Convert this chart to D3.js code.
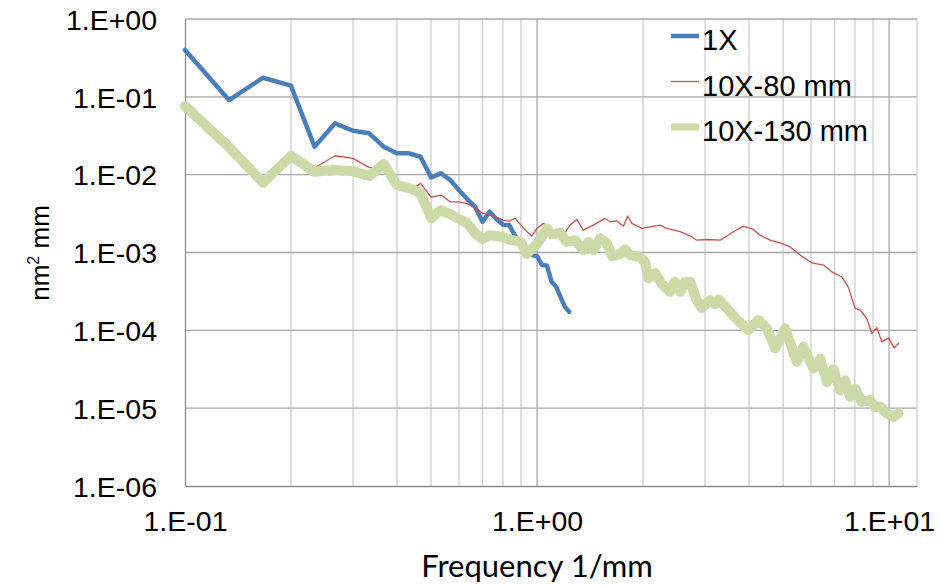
<!DOCTYPE html>
<html>
<head>
<meta charset="utf-8">
<script src="https://cdn.jsdelivr.net/npm/d3@7"></script>
<style>
    body { margin: 0; background: #fff; }
    svg { display: block; }
</style>
</head>
<body>
<div id="chart"></div>
<script>
// series names
var seriesNames = ["1X", "10X-80 mm", "10X-130 mm"];

// 1X
var freq1X = [0.1, 0.1333, 0.1667, 0.2, 0.2333, 0.2667, 0.3, 0.3333, 0.3667, 0.4, 0.4333, 0.4667,
    0.5, 0.5333, 0.5667, 0.6, 0.6333, 0.6667, 0.7, 0.7333, 0.7667, 0.8, 0.8333, 0.8667, 0.9,
    0.9333, 0.9667, 1.0, 1.0333, 1.0667, 1.1, 1.1333, 1.1667, 1.2, 1.2333];
var psd1X = [0.400, 0.091, 0.176, 0.139, 0.0229, 0.0456, 0.0367, 0.0340, 0.0229, 0.0188, 0.0188, 0.0170,
    0.00923, 0.0104, 0.00853, 0.00634, 0.00486, 0.00387, 0.00248, 0.00334, 0.00269, 0.00228, 0.00225, 0.00163, 0.00132,
    0.00107, 0.000926, 0.000899, 0.000689, 0.000680, 0.000420, 0.000362, 0.000267, 0.000200, 0.000173];

// 10X-80 mm
var freq80 = [0.1, 0.1333, 0.1667, 0.2, 0.2333, 0.2667, 0.3, 0.3333, 0.3667, 0.4, 0.4333, 0.4667,
    0.5, 0.5333, 0.5667, 0.6, 0.6333, 0.6667, 0.7, 0.7333, 0.7667, 0.8, 0.8333, 0.8667, 0.9,
    0.9333, 0.9667, 1.0, 1.042, 1.113, 1.162, 1.188, 1.241, 1.297, 1.353, 1.445, 1.560, 1.612,
    1.684, 1.759, 1.810, 1.858, 1.984, 2.049, 2.236, 2.336, 2.549, 2.751, 2.843, 3.034, 3.311,
    3.459, 3.612, 3.855, 4.117, 4.301, 4.592, 4.901, 5.233, 5.587, 6.031, 6.508, 6.875, 7.338,
    7.661, 8.006, 8.273, 8.643, 8.932, 9.226, 9.535, 9.955, 10.33, 10.63];
var psd80 = [0.0762, 0.0270, 0.00787, 0.0175, 0.0122, 0.0175, 0.0162, 0.0124, 0.0118, 0.00853, 0.00603, 0.00773,
    0.00515, 0.00547, 0.00448, 0.00448, 0.00425, 0.00372, 0.00321, 0.00303, 0.00285, 0.00261, 0.00253, 0.00274, 0.00225,
    0.00188, 0.00163, 0.00204, 0.00237, 0.00190, 0.00204, 0.00167, 0.00225, 0.00266, 0.00194, 0.00225, 0.00274, 0.00248,
    0.00255, 0.00218, 0.00294, 0.00237, 0.00204, 0.00210, 0.00225, 0.00204, 0.00185, 0.00159, 0.00144, 0.00147, 0.00144,
    0.00163, 0.00185, 0.00218, 0.00198, 0.00167, 0.00144, 0.00133, 0.00118, 0.000926, 0.000737, 0.000689, 0.000565, 0.000488,
    0.000356, 0.000191, 0.000182, 0.000142, 0.0000912, 0.000108, 0.0000711, 0.0000801, 0.0000596, 0.0000679];

// 10X-130 mm
var freq130 = [0.1, 0.1333, 0.1667, 0.2, 0.2333, 0.2667, 0.3, 0.3333, 0.3667, 0.4, 0.4333, 0.4667,
    0.5, 0.5333, 0.5667, 0.6, 0.6333, 0.6667, 0.7, 0.7333, 0.7667, 0.8, 0.8333, 0.8667, 0.9,
    0.9333, 0.9667, 1.0, 1.0333, 1.0667, 1.1, 1.162, 1.214, 1.282, 1.353, 1.399, 1.445, 1.510,
    1.578, 1.633, 1.721, 1.778, 1.837, 1.961, 2.027, 2.072, 2.164, 2.262, 2.387, 2.466, 2.549,
    2.633, 2.721, 2.843, 2.937, 3.100, 3.204, 3.274, 3.495, 3.692, 3.984, 4.253, 4.494, 4.746,
    5.065, 5.468, 5.707, 6.095, 6.368, 6.667, 6.948, 7.257, 7.499, 7.748, 8.006, 8.365, 8.831,
    9.125, 9.428, 9.851, 10.28, 10.63];
var psd130 = [0.0762, 0.0226, 0.00787, 0.0175, 0.0109, 0.0115, 0.0111, 0.00959, 0.0137, 0.00735, 0.00673, 0.00580,
    0.00277, 0.00351, 0.00312, 0.00269, 0.00239, 0.00177, 0.00149, 0.00167, 0.00163, 0.00158, 0.00147, 0.00142, 0.00136,
    0.000953, 0.00111, 0.00128, 0.00163, 0.00204, 0.00172, 0.00179, 0.00137, 0.00144, 0.00107, 0.00137, 0.00107, 0.00152,
    0.00131, 0.000899, 0.000953, 0.00110, 0.000926, 0.000873, 0.000753, 0.000465, 0.000543, 0.000393, 0.000313, 0.000420, 0.000313,
    0.000420, 0.000420, 0.000244, 0.000193, 0.000244, 0.000217, 0.000249, 0.000182, 0.000138, 0.000101, 0.000135, 0.000106, 0.0000585,
    0.000106, 0.0000394, 0.0000614, 0.0000324, 0.0000435, 0.0000216, 0.0000317, 0.0000170, 0.0000229, 0.0000140, 0.0000179, 0.0000120, 0.0000127,
    0.0000103, 0.0000105, 0.00000855, 0.00000773, 0.00000855];

var xTicks = [0.1, 1, 10];
var yTicks = [1, 0.1, 0.01, 0.001, 0.0001, 0.00001, 0.000001];
var xTitle = "Frequency 1/mm";

function zip(fs, vs) {
    return fs.map((f, i) => ({ f: f, v: vs[i] }));
}

var series = [
    { name: seriesNames[0], data: zip(freq1X, psd1X), color: "#4a7ebb", width: 4.5 },
    { name: seriesNames[1], data: zip(freq80, psd80), color: "#c9504c", width: 1.3 },
    { name: seriesNames[2], data: zip(freq130, psd130), color: "#cbdaa7", width: 10 }
];

function sciLabel(d) {
    var e = Math.round(Math.log10(d));
    return "1.E" + (e < 0 ? "-" : "+") + String(Math.abs(e)).padStart(2, "0");
}

function drawChart() {
    const width = 940;
    const height = 586;
    var margin = ({ top: 19, right: 23, bottom: 100, left: 185 });

    var x = d3.scaleLog()
        .domain([0.1, 12])
        .range([margin.left, width - margin.right]);

    var y = d3.scaleLog()
        .domain([1e-6, 1])
        .range([height - margin.bottom, margin.top]);

    const svg = d3.select("#chart").append("svg")
        .attr("width", width)
        .attr("height", height)
        .attr("viewBox", [0, 0, width, height]);

    // minor vertical gridlines
    var minor = [];
    [0.1, 1, 10].forEach(b => d3.range(2, 10).forEach(m => { if (b * m < 12) minor.push(b * m); }));

    svg.append("g")
        .attr("stroke", "#cfcfcf")
        .attr("stroke-width", 1.3)
        .selectAll("line")
        .data(minor)
        .join("line")
        .attr("x1", d => x(d)).attr("x2", d => x(d))
        .attr("y1", y(1)).attr("y2", y(1e-6));

    // major vertical gridlines
    svg.append("g")
        .attr("stroke", "#a8a8a8")
        .attr("stroke-width", 1.3)
        .selectAll("line")
        .data([1, 10])
        .join("line")
        .attr("x1", d => x(d)).attr("x2", d => x(d))
        .attr("y1", y(1)).attr("y2", y(1e-6));

    // horizontal gridlines
    svg.append("g")
        .attr("stroke", "#a8a8a8")
        .attr("stroke-width", 1.3)
        .selectAll("line")
        .data(yTicks.slice(0, -1))
        .join("line")
        .attr("x1", x(0.1)).attr("x2", x(12))
        .attr("y1", d => y(d)).attr("y2", d => y(d));

    // right edge
    svg.append("line")
        .attr("stroke", "#cfcfcf")
        .attr("stroke-width", 1.3)
        .attr("x1", x(12)).attr("x2", x(12))
        .attr("y1", y(1)).attr("y2", y(1e-6));

    // axes
    svg.append("g")
        .attr("transform", `translate(0,${y(1e-6)})`)
        .call(d3.axisBottom(x).tickValues(xTicks).tickSize(0).tickFormat(sciLabel))
        .call(g => g.select(".domain").attr("stroke", "#8c8c8c").attr("stroke-width", 1.3))
        .call(g => g.selectAll("text")
            .attr("font-family", "'Liberation Sans', Arial, sans-serif")
            .attr("font-size", 28.5)
            .attr("fill", "#000")
            .attr("dy", 0)
            .attr("y", 45));

    svg.append("g")
        .attr("transform", `translate(${x(0.1)},0)`)
        .call(d3.axisLeft(y).tickValues(yTicks).tickSize(0).tickFormat(sciLabel))
        .call(g => g.select(".domain").attr("stroke", "#8c8c8c").attr("stroke-width", 1.3))
        .call(g => g.selectAll("text")
            .attr("font-family", "'Liberation Sans', Arial, sans-serif")
            .attr("font-size", 28.5)
            .attr("fill", "#000")
            .attr("x", -28)
            .attr("dy", "0.36em"));

    // lines
    var line = d3.line()
        .x(d => x(d.f))
        .y(d => y(d.v));

    svg.append("g")
        .attr("fill", "none")
        .attr("stroke-linejoin", "round")
        .attr("stroke-linecap", "round")
        .selectAll("path")
        .data(series)
        .join("path")
        .attr("stroke", d => d.color)
        .attr("stroke-width", d => d.width)
        .attr("d", d => line(d.data));

    // legend
    var legend = svg.append("g")
        .attr("font-family", "'Liberation Sans', Arial, sans-serif")
        .attr("font-size", 29)
        .selectAll("g")
        .data(series)
        .join("g")
        .attr("transform", (d, i) => `translate(671,${36 + i * 45.5})`);

    legend.append("line")
        .attr("x1", 0).attr("x2", 28)
        .attr("stroke", d => d.color)
        .attr("stroke-width", d => Math.min(d.width, 7));

    legend.append("text")
        .attr("x", 31)
        .attr("y", 14)
        .text(d => d.name);

    // axis titles
    var yt = svg.append("text")
        .attr("transform", "translate(49,253) rotate(-90)")
        .attr("text-anchor", "middle")
        .attr("font-family", "'Liberation Sans', Arial, sans-serif")
        .attr("font-size", 26);
    yt.append("tspan").text("nm");
    yt.append("tspan").attr("font-size", 16).attr("dy", -10).text("2");
    yt.append("tspan").attr("dy", 10).text(" mm");

    svg.append("text")
        .attr("x", x(1))
        .attr("y", 577)
        .attr("text-anchor", "middle")
        .attr("font-family", "Lato, 'Open Sans', sans-serif")
        .attr("font-size", 31)
        .text(xTitle);
}

drawChart();
</script>
</body>
</html>
